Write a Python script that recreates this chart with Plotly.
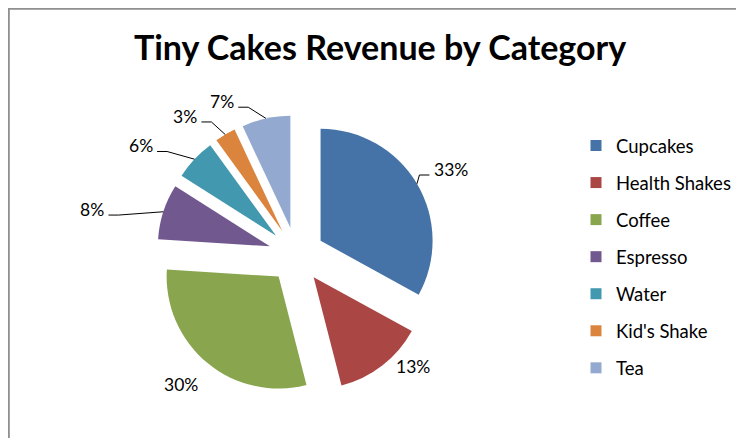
import math
import plotly.graph_objects as go

# ---- data ----
categories = ["Cupcakes", "Health Shakes", "Coffee", "Espresso", "Water", "Kid's Shake", "Tea"]
shares = [33, 13, 30, 8, 6, 3, 7]
colors = ["#4572A7", "#AA4643", "#89A54E", "#71588F", "#4198AF", "#DB843D", "#93A9CF"]
label_texts = [f"{v}%" for v in shares]
title_text = "Tiny Cakes Revenue by Category"

# ---- layout / style ----
W, H = 744, 438
OFF = 8  # page offset of the figure inside the browser window
PULL = 0.25
dom_x = [0.1996, 0.5759]
dom_y = [0.1164, 0.7557]
FONT = "Lato"
LABEL_SIZE = 17.5
label_angle_shift = [1.9, -10.1, 2.7, -6.3, -9.6, -9.7, -15.9]
label_radius = [1.325, 1.19, 1.30, 1.62, 1.45, 1.34, 1.28]
show_leader = [True, False, False, True, True, True, True]

fig = go.Figure()
fig.add_trace(go.Pie(
    labels=categories, values=shares, sort=False, direction="clockwise", rotation=0,
    marker=dict(colors=colors, line=dict(width=0)),
    pull=[PULL] * len(shares), textinfo="none", hoverinfo="label+percent",
    domain=dict(x=dom_x, y=dom_y), showlegend=False,
))

# legend entries (library legend)
for i, (c, col) in enumerate(zip(categories, colors)):
    fig.add_trace(go.Scatter(
        x=[None], y=[None], mode="markers", name=c, legendgroup=c,
        marker=dict(symbol="square", size=11, color=col), showlegend=True,
    ))

# geometry derived from the pie's domain (figure pixel coords)
cx = W * (dom_x[0] + dom_x[1]) / 2
cy = H * (1 - (dom_y[0] + dom_y[1]) / 2)
r = min(W * (dom_x[1] - dom_x[0]), H * (dom_y[1] - dom_y[0])) / 2 / (1 + PULL)
d = PULL * r
total = sum(shares)

def dvec(deg):
    a = math.radians(deg)
    return math.sin(a), -math.cos(a)

def px(x):
    return x / W

def py(y):
    return 1 - y / H

annotations = []
shapes = []
cum = 0
for i, v in enumerate(shares):
    a0 = cum / total * 360
    cum += v
    a1 = cum / total * 360
    mid = (a0 + a1) / 2
    ux, uy = dvec(mid)
    scx, scy = cx + d * ux, cy + d * uy
    lx_, ly_ = dvec(mid + label_angle_shift[i])
    lx = scx + label_radius[i] * r * lx_
    ly = scy + label_radius[i] * r * ly_
    annotations.append(dict(
        x=px(lx), y=py(ly), xref="paper", yref="paper", text=label_texts[i],
        showarrow=False, xanchor="center", yanchor="middle",
        font=dict(family=FONT, size=LABEL_SIZE, color="#000000"),
    ))
    if show_leader[i]:
        ex, ey = scx + r * ux, scy + r * uy
        w = LABEL_SIZE * (0.58 * (len(label_texts[i]) - 1) + 0.82)
        if lx < ex:
            sx = lx + w / 2 + 4
            kx = sx + 10
        else:
            sx = lx - w / 2 - 4
            kx = sx - 10
        sy = ly + 5.5
        path = f"M {px(sx)} {py(sy)} L {px(kx)} {py(sy)} L {px(ex)} {py(ey)}"
        shapes.append(dict(type="path", xref="paper", yref="paper", path=path,
                           line=dict(color="#000000", width=1)))

# chart border (kept just inside the figure's top-left edge)
shapes.append(dict(type="rect", xref="paper", yref="paper",
                   x0=0.9 / W, x1=1.05, y0=-0.05, y1=1 - 0.9 / H,
                   line=dict(color="#8f8f8f", width=1.8), fillcolor="rgba(0,0,0,0)"))

fig.update_layout(
    width=W, height=H,
    margin=dict(l=0, r=0, t=0, b=0),
    paper_bgcolor="white", plot_bgcolor="white",
    title=dict(text=title_text, x=(380 - OFF) / W, xanchor="center", y=1 - (48 - OFF) / H,
               yanchor="middle", yref="container",
               font=dict(family=FONT, size=34, color="#000000", weight="bold")),
    xaxis=dict(visible=False), yaxis=dict(visible=False),
    legend=dict(x=(576 - OFF) / W, xanchor="left", y=1 - (127 - OFF) / H, yanchor="top",
                traceorder="grouped", tracegroupgap=10,
                font=dict(family=FONT, size=18.5, color="#000000"),
                bgcolor="rgba(0,0,0,0)"),
    annotations=annotations, shapes=shapes,
)

fig.write_html("out.html")
